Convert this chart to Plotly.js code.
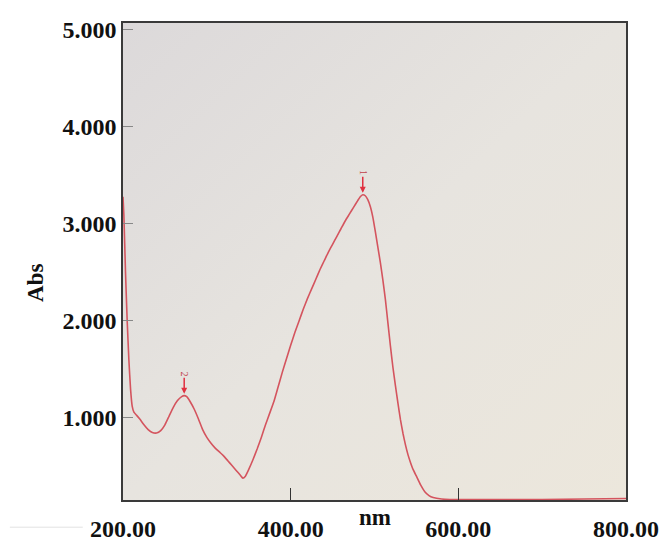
<!DOCTYPE html>
<html>
<head>
<meta charset="utf-8">
<script src="https://cdn.plot.ly/plotly-3.0.1.min.js"></script>
<style>
  html, body { margin: 0; padding: 0; background: #ffffff; }
  #chart { width: 668px; height: 542px; }
</style>
</head>
<body>
<div id="chart"></div>
<script>
// Wavelength (nm)
const wavelength = [200, 201, 203, 205, 207, 209, 211, 213, 216, 220, 225, 230, 235, 240, 245, 250, 255, 260, 265, 270, 273, 276, 280, 285, 290, 295, 300, 305, 310, 315, 320, 325, 330, 335, 340, 343, 346, 350, 355, 360, 365, 370, 375, 380, 385, 390, 395, 400, 405, 410, 415, 420, 425, 430, 435, 440, 445, 450, 455, 460, 465, 470, 475, 480, 483, 486, 489, 492, 495, 498, 501, 504, 507, 510, 513, 516, 519, 522, 525, 528, 531, 534, 537, 540, 543, 546, 550, 555, 560, 565, 570, 580, 590, 600, 650, 700, 750, 800];
// Absorbance
const absorbance = [3.28, 3.10, 2.50, 2.00, 1.60, 1.30, 1.12, 1.06, 1.03, 0.99, 0.93, 0.88, 0.85, 0.845, 0.87, 0.93, 1.02, 1.11, 1.18, 1.22, 1.23, 1.22, 1.17, 1.09, 0.99, 0.88, 0.80, 0.74, 0.69, 0.65, 0.61, 0.56, 0.51, 0.46, 0.41, 0.38, 0.40, 0.47, 0.57, 0.68, 0.80, 0.93, 1.05, 1.17, 1.32, 1.47, 1.61, 1.75, 1.88, 2.00, 2.12, 2.23, 2.33, 2.43, 2.53, 2.62, 2.71, 2.79, 2.87, 2.95, 3.03, 3.10, 3.17, 3.24, 3.28, 3.30, 3.29, 3.25, 3.18, 3.07, 2.92, 2.76, 2.60, 2.42, 2.22, 1.98, 1.74, 1.52, 1.33, 1.15, 0.98, 0.84, 0.72, 0.62, 0.54, 0.47, 0.40, 0.31, 0.24, 0.20, 0.18, 0.165, 0.16, 0.16, 0.16, 0.16, 0.165, 0.17];
// Peak labels and the wavelength windows they are searched in
const peakLabels = ["1", "2"];
const peakWindows = [[400, 600], [250, 300]];
// Tick labels
const xTickVals = [200, 400, 600, 800];
const xTickText = ["200.00", "400.00", "600.00", "800.00"];
const yTickVals = [1, 2, 3, 4, 5];
const yTickText = ["1.000", "2.000", "3.000", "4.000", "5.000"];

const lineColor = '#d4545e';
const serif = 'Liberation Serif, Times New Roman, serif';

// peak markers located from the data
const annotations = peakLabels.map((lab, i) => {
  const [lo, hi] = peakWindows[i];
  let best = -1;
  for (let k = 0; k < wavelength.length; k++) {
    if (wavelength[k] >= lo && wavelength[k] <= hi && (best < 0 || absorbance[k] > absorbance[best])) best = k;
  }
  return {
    x: wavelength[best], y: absorbance[best], xref: 'x', yref: 'y',
    text: lab, textangle: 90,
    font: {family: serif, size: 10, color: '#c0404a'},
    showarrow: true, arrowhead: 2, arrowsize: 0.8, arrowwidth: 1.5, arrowcolor: '#e03040',
    ax: 0, ay: -22, standoff: 2, xanchor: 'center', yanchor: 'middle'
  };
});

annotations.push({
  xref: 'paper', yref: 'paper', x: 0.501, y: -0.036,
  text: '<b>nm</b>', showarrow: false,
  font: {family: serif, size: 23, color: '#111'},
  xanchor: 'center', yanchor: 'middle'
});
annotations.push({
  xref: 'paper', yref: 'paper', x: -0.173, y: 0.455,
  text: '<b>Abs</b>', showarrow: false, textangle: -90,
  font: {family: serif, size: 23, color: '#111'},
  xanchor: 'center', yanchor: 'middle'
});

const grad = '<svg xmlns="http://www.w3.org/2000/svg" width="100" height="100" preserveAspectRatio="none">' +
  '<defs><linearGradient id="g" x1="0" y1="0" x2="1" y2="1">' +
  '<stop offset="0" stop-color="#dcd9da"/><stop offset="0.5" stop-color="#e7e4df"/><stop offset="1" stop-color="#ece7dc"/>' +
  '</linearGradient></defs><rect width="100" height="100" fill="url(#g)"/></svg>';

const trace = {
  x: wavelength, y: absorbance, type: 'scatter', mode: 'lines',
  line: {color: lineColor, width: 1.6, shape: 'spline', smoothing: 0.4},
  hoverinfo: 'skip'
};

const layout = {
  width: 668, height: 542,
  margin: {l: 123, r: 42, t: 23, b: 42},
  paper_bgcolor: '#ffffff',
  plot_bgcolor: '#e4e1dc',
  showlegend: false,
  images: [{
    source: 'data:image/svg+xml;utf8,' + encodeURIComponent(grad),
    xref: 'paper', yref: 'paper', x: 0, y: 1, sizex: 1, sizey: 1,
    sizing: 'stretch', layer: 'below', xanchor: 'left', yanchor: 'top'
  }],
  xaxis: {
    range: [200, 800], tickvals: xTickVals, ticktext: xTickText,
    showgrid: false, zeroline: false,
    showline: true, linecolor: '#3a3a3a', linewidth: 1.6, mirror: true,
    ticks: 'inside', ticklen: 12, tickwidth: 1.5, tickcolor: '#333',
    ticklabelstandoff: 7,
    tickfont: {family: serif, size: 24, color: '#111', weight: 'bold'}
  },
  yaxis: {
    range: [0.155, 5.07], tickvals: yTickVals, ticktext: yTickText,
    showgrid: false, zeroline: false,
    showline: true, linecolor: '#3a3a3a', linewidth: 1.6, mirror: true,
    ticks: 'inside', ticklen: 10, tickwidth: 1, tickcolor: '#888',
    tickfont: {family: serif, size: 24, color: '#111', weight: 'bold'}
  },
  annotations: annotations,
  shapes: [{
    type: 'line', xref: 'paper', yref: 'paper', x0: -0.225, x1: -0.08, y0: -0.057, y1: -0.057,
    line: {color: '#e2e2e2', width: 1}
  }]
};

Plotly.newPlot('chart', [trace], layout, {displayModeBar: false, staticPlot: true});
</script>
</body>
</html>
